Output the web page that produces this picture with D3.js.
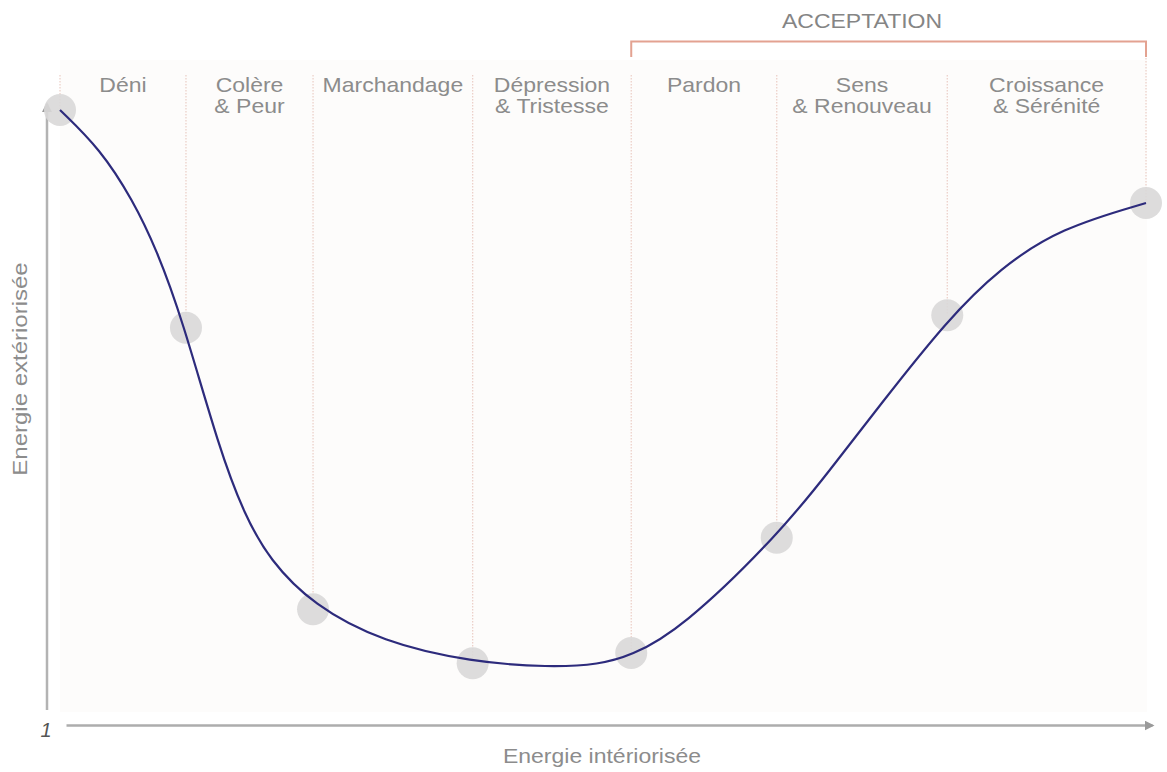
<!DOCTYPE html>
<html>
<head>
<meta charset="utf-8">
<script src="https://cdn.jsdelivr.net/npm/d3@7"></script>
<style>
  body { margin: 0; background: #fff; }
  svg { display: block; font-family: "Liberation Sans", Arial, sans-serif; }
</style>
</head>
<body>
<svg id="chart" width="1167" height="772"></svg>
<script>
// stages (x position of dividers, 0-100 along "énergie intériorisée")
var stageLabels = [
    ["Déni"],
    ["Colère", "& Peur"],
    ["Marchandage"],
    ["Dépression", "& Tristesse"],
    ["Pardon"],
    ["Sens", "& Renouveau"],
    ["Croissance", "& Sérénité"]
];
var stageBounds = [0, 11.6, 23.3, 38.0, 52.6, 66.0, 81.7, 100];
var stageLevel = [100, 63.7, 16.8, 7.8, 9.5, 28.7, 65.8, 84.5];

// curve
var curveX = [0, 3.7, 6.7, 8.9, 11.2, 14.7, 17.0, 19.3, 23.3, 29.7, 37.9, 45.1, 49.7, 52.5, 57.1, 66.3, 70.9, 75.5, 81.7, 86.6, 92.1, 100];
var curveY = [100, 93.5, 85, 76.7, 65.5, 43.3, 32.5, 25, 17.5, 11.3, 8, 7.1, 7.6, 9.0, 13.3, 29.5, 40, 50.8, 65.0, 73.7, 80.3, 84.5];

var groupLabel = "ACCEPTATION";
var groupFrom = 4, groupTo = 7, groupLabelStage = 5;
var xTitle = "Energie intériorisée";
var yTitle = "Energie extériorisée";
var originLabel = "1";

var svg = d3.select("#chart");
var x = d3.scaleLinear().domain([0, 100]).range([60, 1146]);
var y = d3.scaleLinear().domain([0, 100]).range([710, 110]);

var textGrey = "#8c8c8c";
var stretch = 1.15;

svg.append("defs").append("marker")
    .attr("id", "arrow")
    .attr("viewBox", "0 0 10 10")
    .attr("refX", 8).attr("refY", 5)
    .attr("markerWidth", 4).attr("markerHeight", 4)
    .attr("orient", "auto")
    .append("path")
    .attr("d", "M0,0 L10,5 L0,10 z")
    .attr("fill", "#9a9a9a");

// faint plot background
svg.append("rect")
    .attr("x", x(0)).attr("y", 60)
    .attr("width", x(100) - x(0) + 1).attr("height", y(0) + 2 - 60)
    .attr("fill", "#fdfcfb");

// axes
var xAxisScale = x.copy().range([66, 1152]);
svg.append("g")
    .attr("transform", "translate(0,725)")
    .call(d3.axisBottom(xAxisScale).tickValues([]).tickSizeOuter(0))
    .select(".domain")
    .attr("stroke", "#adadad").attr("stroke-width", 2.5)
    .attr("marker-end", "url(#arrow)");

var yAxisScale = y.copy().range([710, 104]);
var yAxisG = svg.append("g")
    .attr("transform", "translate(47,0)")
    .call(d3.axisLeft(yAxisScale).tickValues([]).tickSizeOuter(0));
yAxisG.select(".domain")
    .attr("stroke", "#b3b3b3").attr("stroke-width", 2.5)
    .attr("d", "M0," + yAxisScale.range()[0] + "V" + yAxisScale.range()[1])
    .attr("marker-end", "url(#arrow)");

// dotted stage dividers
svg.append("g").selectAll("line")
    .data(stageBounds)
    .enter().append("line")
    .attr("x1", function (d) { return x(d); })
    .attr("x2", function (d) { return x(d); })
    .attr("y1", function (d, i) { return i == stageBounds.length - 1 ? 58 : 75; })
    .attr("y2", function (d, i) { return y(stageLevel[i]); })
    .attr("stroke", "#ebcdc5")
    .attr("stroke-width", 1.2)
    .attr("stroke-dasharray", "1.5,1.5");

// acceptation bracket
svg.append("path")
    .attr("d", "M" + x(stageBounds[groupFrom]) + ",57V41.5H" + x(stageBounds[groupTo]) + "V57")
    .attr("fill", "none")
    .attr("stroke", "#e3a291")
    .attr("stroke-width", 2);

function stretchedText(g, tx, ty, str, size) {
    return g.append("g")
        .attr("transform", "translate(" + tx + "," + ty + ") scale(" + stretch + ",1)")
        .append("text")
        .attr("text-anchor", "middle")
        .attr("font-size", size)
        .attr("fill", textGrey)
        .text(str);
}

var labelsG = svg.append("g");
stretchedText(labelsG, x((stageBounds[groupLabelStage] + stageBounds[groupLabelStage + 1]) / 2), 28, groupLabel, 20)
    .attr("fill", "#858585");

stageLabels.forEach(function (lines, i) {
    var cx = x((stageBounds[i] + stageBounds[i + 1]) / 2);
    lines.forEach(function (l, j) {
        stretchedText(labelsG, cx, 92 + j * 21, l, 20);
    });
});

// markers
svg.append("g").selectAll("circle")
    .data(stageBounds)
    .enter().append("circle")
    .attr("cx", function (d) { return x(d); })
    .attr("cy", function (d, i) { return y(stageLevel[i]); })
    .attr("r", 16)
    .attr("fill", "#d9d8d8")
    .attr("opacity", 0.9);

// curve
var line = d3.line()
    .x(function (d) { return x(d[0]); })
    .y(function (d) { return y(d[1]); })
    .curve(d3.curveBasis);

svg.append("path")
    .datum(d3.zip(curveX, curveY))
    .attr("d", line)
    .attr("fill", "none")
    .attr("stroke", "#2d2b7c")
    .attr("stroke-width", 2.2);

// axis titles
stretchedText(svg, 602, 763, xTitle, 20);

svg.append("g")
    .attr("transform", "translate(27,369) rotate(-90) scale(1.2,1)")
    .append("text")
    .attr("text-anchor", "middle")
    .attr("font-size", 20)
    .attr("fill", textGrey)
    .text(yTitle);

svg.append("text")
    .attr("x", 46).attr("y", 737)
    .attr("text-anchor", "middle")
    .attr("font-size", 20)
    .attr("font-style", "italic")
    .attr("fill", "#555")
    .text(originLabel);
</script>
</body>
</html>
